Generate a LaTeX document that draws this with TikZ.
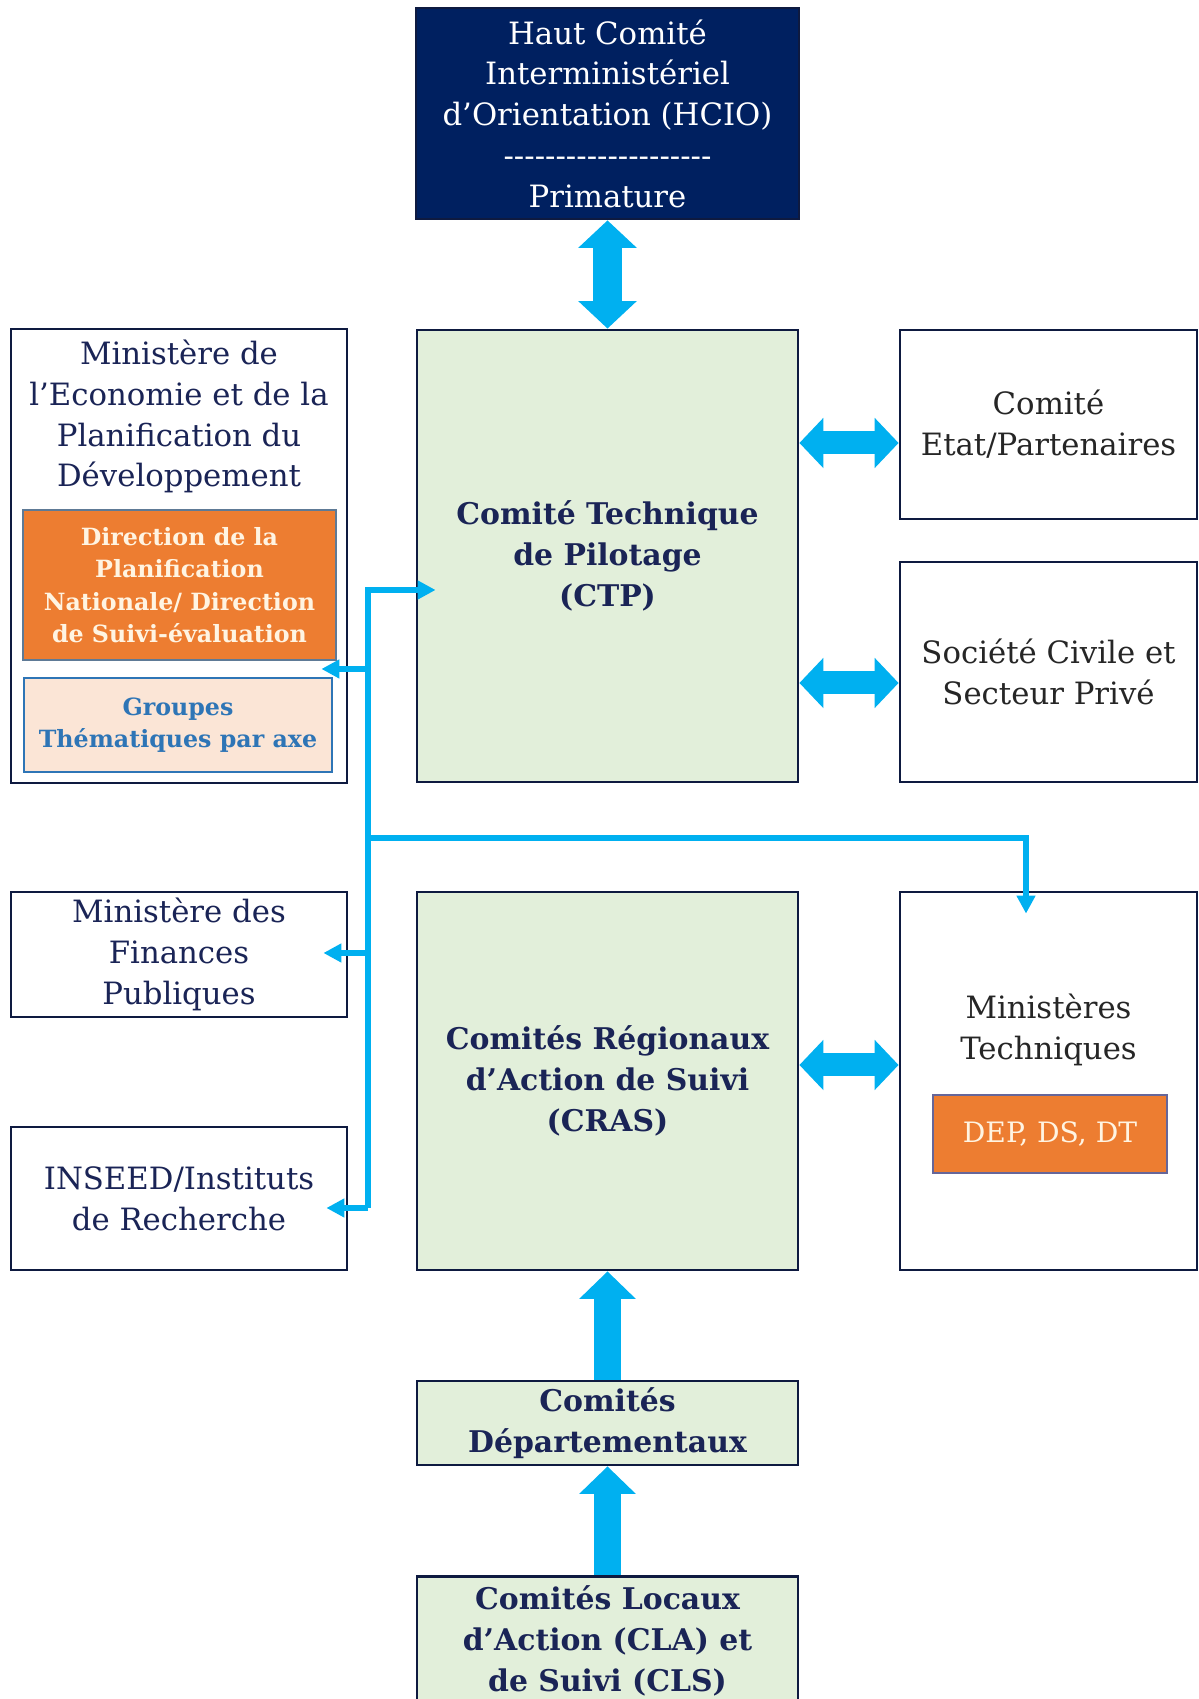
\documentclass[tikz,border=0pt]{standalone}
\usepackage{fontspec}
\setmainfont{DejaVu Serif}
\usetikzlibrary{arrows.meta,calc}

\definecolor{navyfill}{HTML}{002060}
\definecolor{navytext}{HTML}{1A2456}
\definecolor{boxline}{HTML}{0E1A40}
\definecolor{greenfill}{HTML}{E2EFDA}
\definecolor{orangefill}{HTML}{ED7D31}
\definecolor{orangeline}{HTML}{5E7A96}
\definecolor{creamtext}{HTML}{FFF4E2}
\definecolor{peachfill}{HTML}{FBE5D6}
\definecolor{steelblue}{HTML}{2E75B6}
\definecolor{cyanarrow}{HTML}{00B0F0}

\newcommand{\dashrow}{-{}-{}-{}-{}-{}-{}-{}-{}-{}-{}-{}-{}-{}-{}-{}-{}-{}-{}-{}-}

\begin{document}
\begin{tikzpicture}[
        box/.style = {draw=boxline, line width=1.6pt, align=center, inner sep=0pt},
        greenbox/.style = {box, fill=greenfill, text=navytext,
            font=\bfseries\fontsize{17}{23.3}\selectfont},
        whitebox/.style = {box, fill=white, text=navytext,
            font=\fontsize{17.5}{23.3}\selectfont},
        blackbox/.style = {whitebox, text=black!85},
        plaintext/.style = {align=center, inner sep=0pt, text=navytext,
            font=\fontsize{17.5}{23.3}\selectfont},
        orangebox/.style = {draw=orangeline, line width=1.6pt, fill=orangefill,
            text=creamtext, align=center, inner sep=0pt},
        bigarrow/.style = {cyanarrow, line width=0.46cm,
            {Triangle[length=0.48cm,width=0.98cm]}-{Triangle[length=0.48cm,width=0.98cm]}},
        tallarrow/.style = {cyanarrow, line width=0.58cm,
            {Triangle[length=0.55cm,width=1.14cm]}-{Triangle[length=0.55cm,width=1.14cm]}},
        uparrow/.style = {cyanarrow, line width=0.55cm,
            -{Triangle[length=0.55cm,width=1.1cm]}},
        thinarrow/.style = {cyanarrow, line width=0.13cm,
            -{Triangle[length=0.36cm,width=0.36cm]}}
    ]
    \useasboundingbox (0,0) rectangle (23.96,33.98);

    % centre column
    \node[box, fill=navyfill, text=white, minimum width=7.66cm, minimum height=4.22cm,
        font=\fontsize{17.5}{23.2}\selectfont] (hcio) at (12.15,31.71)
        {Haut Comité\\Interministériel\\d’Orientation (HCIO)\\\dashrow\\Primature};
    \node[greenbox, minimum width=7.62cm, minimum height=9.04cm] (ctp) at (12.15,22.86)
        {Comité Technique\\de Pilotage\\(CTP)};
    \node[greenbox, minimum width=7.62cm, minimum height=7.56cm] (cras) at (12.15,12.36)
        {Comités Régionaux\\d’Action de Suivi\\(CRAS)};
    \node[greenbox, minimum width=7.62cm, minimum height=1.68cm] (dept) at (12.15,5.52)
        {Comités\\Départementaux};
    \node[greenbox, minimum width=7.62cm, minimum height=3.2cm, anchor=north] (cla)
        at (12.15,2.48) {};
    \node[plaintext, font=\bfseries\fontsize{17}{23.3}\selectfont] (clatext) at (12.15,1.16)
        {Comités Locaux\\d’Action (CLA) et\\de Suivi (CLS)};

    % left column
    \node[whitebox, minimum width=6.72cm, minimum height=9.08cm] (mepd) at (3.58,22.86) {};
    \node[plaintext] (mepdtext) at (3.58,25.65)
        {Ministère de\\l’Economie et de la\\Planification du\\Développement};
    \node[orangebox, minimum width=6.26cm, minimum height=3.0cm,
        font=\bfseries\fontsize{13.5}{18.5}\selectfont] (dpn) at (3.59,22.28)
        {Direction de la\\Planification\\Nationale/ Direction\\de Suivi-évaluation};
    \node[draw=steelblue, line width=1.6pt, fill=peachfill, text=steelblue, align=center,
        inner sep=0pt, minimum width=6.16cm, minimum height=1.88cm,
        font=\bfseries\fontsize{13.5}{18.5}\selectfont] (gt) at (3.56,19.48)
        {Groupes\\Thématiques par axe};
    \node[whitebox, minimum width=6.72cm, minimum height=2.5cm] (fin) at (3.58,14.89)
        {Ministère des\\Finances\\Publiques};
    \node[whitebox, minimum width=6.72cm, minimum height=2.86cm] (ins) at (3.58,10.01)
        {INSEED/Instituts\\de Recherche};

    % right column
    \node[blackbox, minimum width=5.94cm, minimum height=3.78cm] (ep) at (20.97,25.49)
        {Comité\\Etat/Partenaires};
    \node[blackbox, minimum width=5.94cm, minimum height=4.4cm] (soc) at (20.97,20.54)
        {Société Civile et\\Secteur Privé};
    \node[blackbox, minimum width=5.94cm, minimum height=7.56cm] (mint) at (20.97,12.36) {};
    \node[plaintext, text=black!85] (minttext) at (20.97,13.39) {Ministères\\Techniques};
    \node[orangebox, draw=gray!80!blue, minimum width=4.68cm, minimum height=1.56cm,
        font=\fontsize{16}{20}\selectfont] (dep) at (21.0,11.3) {DEP, DS, DT};

    % block arrows
    \draw[tallarrow] (hcio.south) -- (ctp.north);
    \draw[bigarrow] ([yshift=-0.37cm]ep.west -| ctp.east) -- ([yshift=-0.37cm]ep.west);
    \draw[bigarrow] ([yshift=-0.22cm]soc.west -| ctp.east) -- ([yshift=-0.22cm]soc.west);
    \draw[bigarrow] ([yshift=0.32cm]mint.west -| cras.east) -- ([yshift=0.32cm]mint.west);
    \draw[uparrow] (dept.north) -- (cras.south);
    \draw[uparrow] (cla.north) -- (dept.south);

    % distribution line
    \coordinate (bustop) at (7.36,22.18);
    \coordinate (busmepd) at (7.36,20.6);
    \coordinate (busjoin) at (7.36,17.22);
    \coordinate (busfin) at (7.36,14.92);
    \coordinate (busins) at (7.36,9.82);

    \draw[thinarrow, shorten >=-0.4cm] (busins) -- (bustop) -- (bustop -| ctp.west);
    \draw[thinarrow, shorten >=-0.54cm] (busmepd) -- (busmepd -| mepd.east);
    \draw[thinarrow, shorten >=-0.5cm] (busfin) -- (busfin -| fin.east);
    \draw[thinarrow, shorten >=-0.44cm] (busins) -- (busins -| ins.east);
    \draw[thinarrow, shorten >=-0.46cm] (busjoin) -| ([xshift=-0.45cm]mint.north);
\end{tikzpicture}
\end{document}
